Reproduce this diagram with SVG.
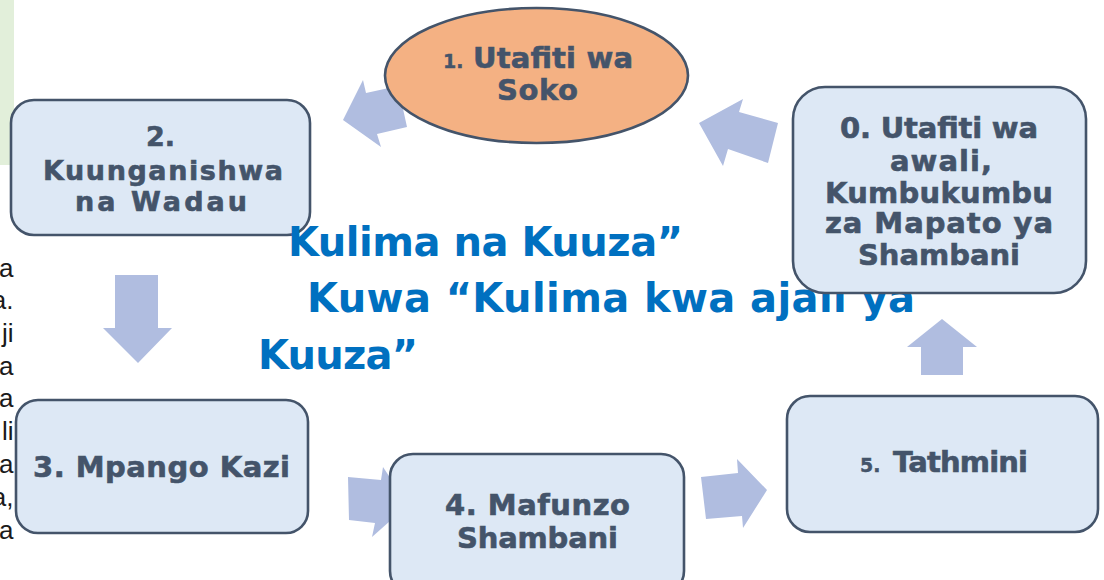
<svg xmlns="http://www.w3.org/2000/svg" width="1104" height="580" viewBox="0 0 1104 580">
<style>
.box{fill:#dde8f5;stroke:#44546a;stroke-width:2.6}
.ell{fill:#f4b183;stroke:#44546a;stroke-width:2.6}
.nt{font-family:"DejaVu Sans","Liberation Sans",sans-serif;font-weight:bold;fill:#44546a;stroke:#44546a}
.ar{fill:#b0bde0}
.bt{font-family:"DejaVu Sans","Liberation Sans",sans-serif;font-weight:bold;fill:#0070c0;font-size:40px}
.lt{font-family:"Liberation Sans",Arial,sans-serif;font-size:26px;fill:#1a1a1a;text-anchor:end}
</style>
<rect x="0" y="0" width="1104" height="580" fill="#ffffff"/>
<rect x="0" y="0" width="14" height="165" fill="#e2efda"/>
<g id="side-text">
<text class="lt" x="13.5" y="277">a</text>
<text class="lt" x="13.5" y="309">a.</text>
<text class="lt" x="13.5" y="342">ji</text>
<text class="lt" x="13.5" y="375">a</text>
<text class="lt" x="13.5" y="407">a</text>
<text class="lt" x="13.5" y="440">li</text>
<text class="lt" x="13.5" y="473">a</text>
<text class="lt" x="13.5" y="506">a,</text>
<text class="lt" x="13.5" y="539">a</text>
</g>
<g id="connectors">
<polygon class="ar" points="343,120 363,80 366,93 398,86 407,127 377,134 381,147"/>
<polygon class="ar" points="699,123 743,99 739,112 778,123 768,163 728,149 723,166"/>
<polygon class="ar" points="115,275 158,275 158,328 172,328 138,363 103,328 115,328"/>
<polygon class="ar" points="348,477 381,480 383,467 408,505 372,537 375,523 349,520"/>
<polygon class="ar" points="701,477 738,473 737,459 767,490 743,528 742,516 706,519"/>
<polygon class="ar" points="921,375 963,375 963,347 977,347 942,319 907,347 921,347"/>
</g>
<g id="node2">
<rect class="box" x="11" y="100" width="299" height="135" rx="23"/>
<text class="nt" font-size="27" stroke-width="0.6" x="160.5" y="146" text-anchor="middle">2.</text>
<text class="nt" font-size="27" stroke-width="0.6" x="43" y="180" textLength="240" lengthAdjust="spacing">Kuunganishwa</text>
<text class="nt" font-size="27" stroke-width="0.6" x="75" y="211" textLength="172" lengthAdjust="spacing">na Wadau</text>
</g>
<g id="node3">
<rect class="box" x="16" y="400" width="292" height="133" rx="22"/>
<text class="nt" font-size="29" stroke-width="0.6" x="33" y="477" textLength="257" lengthAdjust="spacing">3. Mpango Kazi</text>
</g>
<g id="node4">
<rect class="box" x="390" y="454" width="294" height="140" rx="23"/>
<text class="nt" font-size="29" stroke-width="0.6" x="445" y="515" textLength="185" lengthAdjust="spacing">4. Mafunzo</text>
<text class="nt" font-size="29" stroke-width="0.6" x="457" y="548" textLength="161" lengthAdjust="spacing">Shambani</text>
</g>
<g id="node5">
<rect class="box" x="787" y="396" width="311" height="136" rx="23"/>
<text class="nt" font-size="19" stroke-width="0.4" x="860" y="472">5.</text>
<text class="nt" font-size="29" stroke-width="0.6" x="893" y="472" textLength="135" lengthAdjust="spacing">Tathmini</text>
</g>
<g id="node1">
<ellipse class="ell" cx="536.5" cy="75.5" rx="151.5" ry="67.5"/>
<text class="nt" font-size="19" stroke-width="0.4" x="443" y="68">1.</text>
<text class="nt" font-size="29" stroke-width="0.6" x="473" y="68" textLength="160" lengthAdjust="spacing">Utafiti wa</text>
<text class="nt" font-size="29" stroke-width="0.6" x="497" y="100" textLength="81" lengthAdjust="spacing">Soko</text>
</g>
<g id="center-text">
<text class="bt" x="288" y="256" textLength="395" lengthAdjust="spacing">Kulima na Kuuza”</text>
<text class="bt" x="307" y="312" textLength="608" lengthAdjust="spacing">Kuwa “Kulima kwa ajali ya</text>
<text class="bt" x="258" y="369" textLength="160" lengthAdjust="spacing">Kuuza”</text>
</g>
<g id="node0">
<rect class="box" x="793" y="87" width="293" height="206" rx="32"/>
<text class="nt" font-size="29" stroke-width="0.6" x="840" y="138" textLength="198" lengthAdjust="spacing">0. Utafiti wa</text>
<text class="nt" font-size="29" stroke-width="0.6" x="890" y="171" textLength="102" lengthAdjust="spacing">awali,</text>
<text class="nt" font-size="29" stroke-width="0.6" x="825" y="203" textLength="228" lengthAdjust="spacing">Kumbukumbu</text>
<text class="nt" font-size="29" stroke-width="0.6" x="825" y="233" textLength="228" lengthAdjust="spacing">za Mapato ya</text>
<text class="nt" font-size="29" stroke-width="0.6" x="858" y="265" textLength="162" lengthAdjust="spacing">Shambani</text>
</g>
</svg>
